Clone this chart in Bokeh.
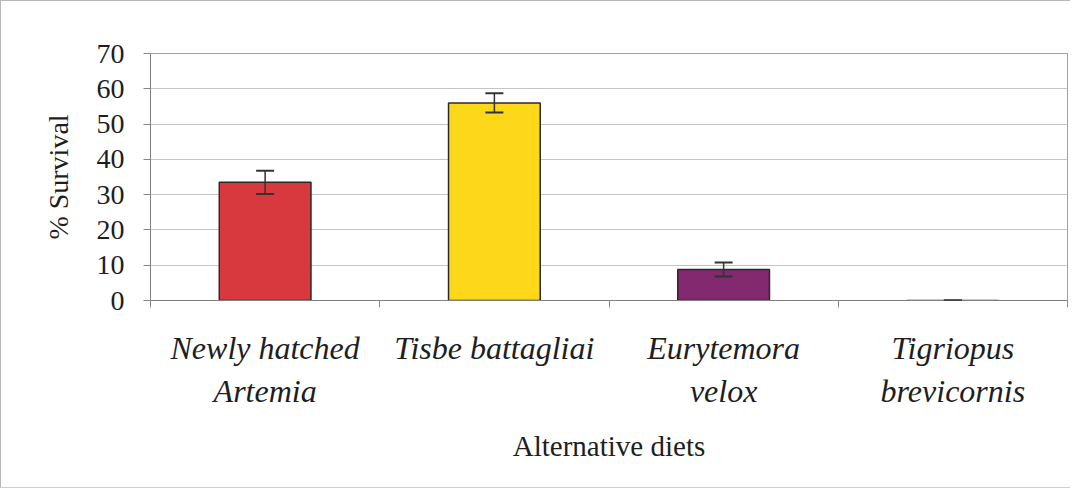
from bokeh.plotting import figure
from bokeh.models import ColumnDataSource, Range1d, FixedTicker, Whisker, TeeHead
from bokeh.embed import file_html
from bokeh.resources import INLINE
import numpy as np

categories = ["Newly hatched\nArtemia", "Tisbe battagliai", "Eurytemora\nvelox", "Tigriopus\nbrevicornis"]
survival = [33.5, 56.0, 8.8, 0.0]
errors = [3.3, 2.7, 2.0, 0.0]
colors = ["#d8393e", "#fdd71a", "#82296f", "#ffffff"]
y_ticks = [0, 10, 20, 30, 40, 50, 60, 70]

SERIF = "Liberation Serif"

xs = np.arange(len(categories)) + 0.5
src = ColumnDataSource(dict(
    x=xs, top=survival, color=colors,
    upper=[v + e for v, e in zip(survival, errors)],
    lower=[v - e for v, e in zip(survival, errors)],
))

p = figure(width=1070, height=488, output_backend="svg", toolbar_location=None,
           x_range=Range1d(0, len(categories)), y_range=Range1d(0, 70),
           min_border_left=149, min_border_right=4, min_border_top=52, min_border_bottom=189)
p.styles = {"border-top": "1px solid #b8b8b8", "border-left": "1px solid #b8b8b8",
            "border-bottom": "1px solid #d0d0d0"}

p.vbar(x="x", top="top", width=0.4, source=src, fill_color="color",
       line_color="#2a2a2a", line_width=1.5)
wh = Whisker(source=src, base="x", upper="upper", lower="lower",
             line_color="#333333", line_width=1.5,
             upper_head=TeeHead(size=18, line_color="#333333", line_width=2),
             lower_head=TeeHead(size=18, line_color="#333333", line_width=2))
wh.level = "overlay"
p.add_layout(wh)

p.outline_line_color = "#a0a0a0"
p.xgrid.visible = False
p.ygrid.grid_line_color = "#c4c4c4"
p.ygrid.ticker = FixedTicker(ticks=y_ticks)

xa = p.xaxis[0]
xa.ticker = FixedTicker(ticks=list(xs), minor_ticks=list(range(len(categories) + 1)))
xa.major_label_overrides = {float(x): c for x, c in zip(xs, categories)}
xa.major_tick_line_color = None
xa.major_tick_out = 0
xa.major_tick_in = 0
xa.minor_tick_line_color = "#888888"
xa.minor_tick_out = 7
xa.minor_tick_in = 0
xa.axis_line_color = "#808080"
xa.major_label_text_font = SERIF
xa.major_label_text_font_style = "italic"
xa.major_label_text_font_size = "32px"
xa.major_label_text_color = "#1e1e1e"
xa.major_label_standoff = 22
xa.axis_label = "Alternative diets"
xa.axis_label_text_font = SERIF
xa.axis_label_text_font_style = "normal"
xa.axis_label_text_font_size = "29px"
xa.axis_label_text_color = "#1e1e1e"
xa.axis_label_standoff = 18

ya = p.yaxis[0]
ya.ticker = FixedTicker(ticks=y_ticks)
ya.major_tick_line_color = "#888888"
ya.major_tick_out = 7
ya.major_tick_in = 0
ya.minor_tick_line_color = None
ya.axis_line_color = "#808080"
ya.major_label_text_font = SERIF
ya.major_label_text_font_size = "28px"
ya.major_label_text_color = "#1e1e1e"
ya.major_label_standoff = 19
ya.axis_label = "% Survival"
ya.axis_label_text_font = SERIF
ya.axis_label_text_font_style = "normal"
ya.axis_label_text_font_size = "28px"
ya.axis_label_text_color = "#1e1e1e"
ya.axis_label_standoff = 20

open("out.html", "w").write(file_html(p, INLINE))
